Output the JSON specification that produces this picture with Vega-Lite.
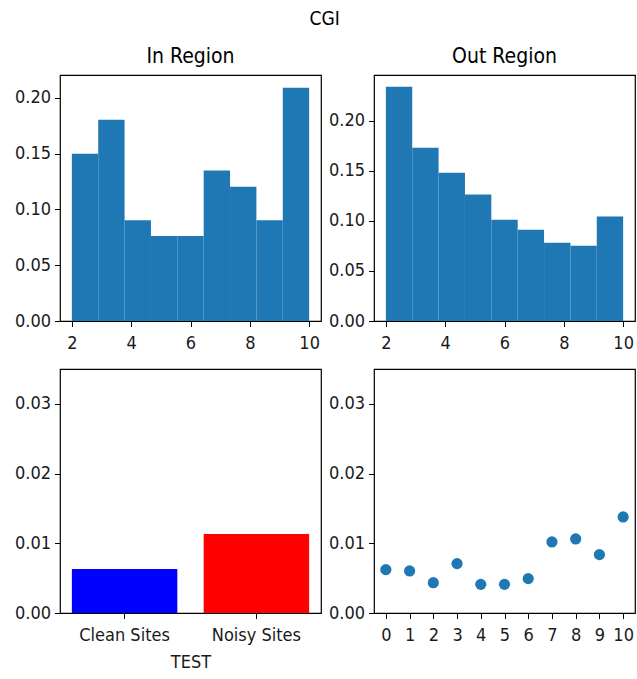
{
  "$schema": "https://vega.github.io/schema/vega-lite/v6.json",
  "padding": {"left": 13, "top": 10, "right": 0, "bottom": 0},
  "title": {"text": "CGI", "fontSize": 19, "fontWeight": "normal", "anchor": "middle", "color": "#000", "offset": 16},
  "config": {
    "font": "DejaVu Sans Condensed, DejaVu Sans",
    "view": {"stroke": "#000", "strokeWidth": 1.2},
    "axis": {"grid": false, "domain": false, "tickColor": "#000", "tickSize": 5.5, "labelFontSize": 18, "labelColor": "#1a1a1a", "labelPadding": 4, "titleFontSize": 18, "titleFontWeight": "normal", "titleColor": "#1a1a1a"},
    "axisX": {"labelPadding": 8},
    "title": {"fontSize": 21, "fontWeight": "normal", "color": "#000", "offset": 8}
  },
  "datasets": {
    "inRegion": [
      {"bin_start": 2.0, "bin_end": 2.8889, "density": 0.150},
      {"bin_start": 2.8889, "bin_end": 3.7778, "density": 0.1805},
      {"bin_start": 3.7778, "bin_end": 4.6667, "density": 0.0904},
      {"bin_start": 4.6667, "bin_end": 5.5556, "density": 0.0763},
      {"bin_start": 5.5556, "bin_end": 6.4444, "density": 0.0763},
      {"bin_start": 6.4444, "bin_end": 7.3333, "density": 0.135},
      {"bin_start": 7.3333, "bin_end": 8.2222, "density": 0.1204},
      {"bin_start": 8.2222, "bin_end": 9.1111, "density": 0.0904},
      {"bin_start": 9.1111, "bin_end": 10.0, "density": 0.209}
    ],
    "outRegion": [
      {"bin_start": 2.0, "bin_end": 2.8889, "density": 0.2342},
      {"bin_start": 2.8889, "bin_end": 3.7778, "density": 0.1732},
      {"bin_start": 3.7778, "bin_end": 4.6667, "density": 0.1483},
      {"bin_start": 4.6667, "bin_end": 5.5556, "density": 0.1265},
      {"bin_start": 5.5556, "bin_end": 6.4444, "density": 0.1013},
      {"bin_start": 6.4444, "bin_end": 7.3333, "density": 0.0913},
      {"bin_start": 7.3333, "bin_end": 8.2222, "density": 0.0782},
      {"bin_start": 8.2222, "bin_end": 9.1111, "density": 0.0752},
      {"bin_start": 9.1111, "bin_end": 10.0, "density": 0.1044}
    ],
    "sites": [
      {"site": "Clean Sites", "value": 0.00632},
      {"site": "Noisy Sites", "value": 0.01134}
    ],
    "points": [
      {"k": 0, "value": 0.00622},
      {"k": 1, "value": 0.00603},
      {"k": 2, "value": 0.00435},
      {"k": 3, "value": 0.00708},
      {"k": 4, "value": 0.00411},
      {"k": 5, "value": 0.00411},
      {"k": 6, "value": 0.00493},
      {"k": 7, "value": 0.01019},
      {"k": 8, "value": 0.01062},
      {"k": 9, "value": 0.00837},
      {"k": 10, "value": 0.01378}
    ]
  },
  "columns": 2,
  "spacing": {"row": 48, "column": 53},
  "bounds": "flush",
  "concat": [
    {
      "title": "In Region",
      "width": 261, "height": 246,
      "data": {"name": "inRegion"},
      "mark": {"type": "bar", "color": "#1f77b4"},
      "encoding": {
        "x": {"field": "bin_start", "type": "quantitative", "scale": {"domain": [1.6, 10.4], "nice": false, "zero": false}, "axis": {"title": null, "values": [2, 4, 6, 8, 10]}},
        "x2": {"field": "bin_end"},
        "y": {"field": "density", "type": "quantitative", "scale": {"domain": [0, 0.2205], "nice": false}, "axis": {"title": null, "values": [0, 0.05, 0.1, 0.15, 0.2], "format": ".2f"}},
        "y2": {"datum": 0}
      }
    },
    {
      "title": "Out Region",
      "width": 261, "height": 246,
      "data": {"name": "outRegion"},
      "mark": {"type": "bar", "color": "#1f77b4"},
      "encoding": {
        "x": {"field": "bin_start", "type": "quantitative", "scale": {"domain": [1.6, 10.4], "nice": false, "zero": false}, "axis": {"title": null, "values": [2, 4, 6, 8, 10]}},
        "x2": {"field": "bin_end"},
        "y": {"field": "density", "type": "quantitative", "scale": {"domain": [0, 0.2459], "nice": false}, "axis": {"title": null, "values": [0, 0.05, 0.1, 0.15, 0.2], "format": ".2f"}},
        "y2": {"datum": 0}
      }
    },
    {
      "width": 261, "height": 244,
      "data": {"name": "sites"},
      "mark": {"type": "bar"},
      "encoding": {
        "x": {"field": "site", "type": "nominal", "scale": {"paddingInner": 0.2, "paddingOuter": 0.09}, "axis": {"title": "TEST", "labelAngle": 0, "titlePadding": 9}},
        "y": {"field": "value", "type": "quantitative", "scale": {"domain": [0, 0.035], "nice": false}, "axis": {"title": null, "values": [0, 0.01, 0.02, 0.03], "format": ".2f"}},
        "color": {"field": "site", "type": "nominal", "scale": {"domain": ["Clean Sites", "Noisy Sites"], "range": ["#0000ff", "#ff0000"]}, "legend": null}
      }
    },
    {
      "width": 261, "height": 244,
      "data": {"name": "points"},
      "mark": {"type": "circle", "color": "#1f77b4", "opacity": 1, "size": 125},
      "encoding": {
        "x": {"field": "k", "type": "quantitative", "scale": {"domain": [-0.5, 10.5], "nice": false, "zero": false}, "axis": {"title": null, "values": [0, 1, 2, 3, 4, 5, 6, 7, 8, 9, 10]}},
        "y": {"field": "value", "type": "quantitative", "scale": {"domain": [0, 0.035], "nice": false}, "axis": {"title": null, "values": [0, 0.01, 0.02, 0.03], "format": ".2f"}}
      }
    }
  ]
}
